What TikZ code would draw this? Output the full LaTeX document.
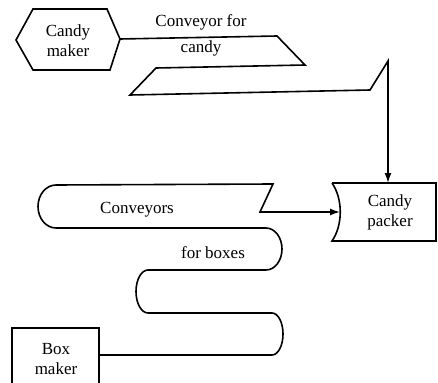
\documentclass[tikz,border=0pt]{standalone}
\usepackage{fontspec}
\setmainfont{Liberation Serif}
\usetikzlibrary{arrows.meta}
\begin{document}
\begin{tikzpicture}[x=1pt,y=-1pt,line width=1.6pt,
  lbl/.style={font=\fontsize{17}{20}\selectfont,align=center,inner sep=0pt},
  flow/.style={-{Latex[length=10pt,width=7pt]}}]
\useasboundingbox (0,0) rectangle (438,382);
% machines
\draw (16,40)--(33,9)--(107,9)--(120,39)--(110,70)--(33,70)--cycle;
\node[lbl] (maker) at (68,41) {Candy\\maker};
\coordinate (makerR) at (120,39);
\draw (332,183)--(436,183)--(436,241)--(332,241) .. controls (343,225) and (343,199) .. (332,183);
\node[lbl] (packer) at (390,212) {Candy\\packer};
\coordinate (packerT) at (388,183);
\coordinate (packerL) at (340,212);
\draw (12,400)--(12,328)--(99,328)--(99,400);
\node[lbl] (boxmk) at (56,359) {Box\\maker};
\coordinate (boxR) at (99,355);
% conveyor for candy
\draw[flow] (makerR)--(277,36)--(305,65)--(156,68)--(130,95)--(370,90)--(388,61)--(packerT);
\node[lbl,anchor=base] (cc1) at (201,27) {Conveyor for};
\node[lbl,anchor=base] (cc2) at (201,53) {candy};
% conveyors for boxes
\draw[flow] (boxR)--(272,355) arc[start angle=90,end angle=-90,x radius=11,y radius=21]
  --(148,313) arc[start angle=90,end angle=270,x radius=12,y radius=21.5]
  --(266,270) arc[start angle=90,end angle=-90,x radius=16,y radius=21]
  --(56,228) arc[start angle=90,end angle=270,x radius=18,y radius=21.5]
  --(273,184)--(260,212)--(packerL);
\node[lbl,anchor=base] (cb1) at (137,213) {Conveyors};
\node[lbl,anchor=base] (cb2) at (213,258) {for boxes};
\end{tikzpicture}
\end{document}
